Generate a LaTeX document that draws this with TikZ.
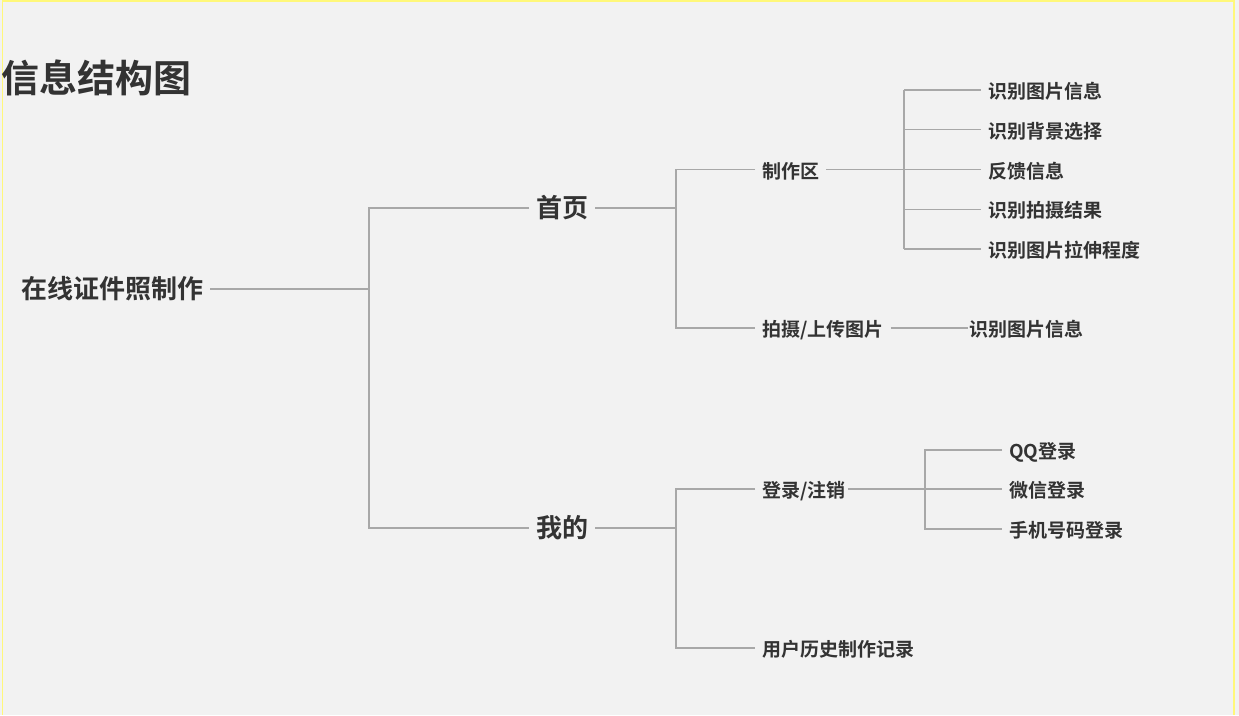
\documentclass[tikz,border=0pt]{standalone}
\usepackage{fontspec}
\newfontfamily\cjk{Noto Sans CJK SC}[BoldFont={Noto Sans CJK SC Bold}]
\definecolor{paper}{HTML}{F2F2F2}
\definecolor{wire}{HTML}{A8A8A8}
\definecolor{ink}{HTML}{333333}
\definecolor{rim}{HTML}{FFF87A}
\begin{document}
\begin{tikzpicture}[x=1pt,y=-1pt,
  lbl/.style={anchor=west,inner xsep=7pt,inner ysep=0pt,text=ink,text depth=0pt},
  big/.style={lbl,text height=19pt,font=\cjk\bfseries\fontsize{26}{26}\selectfont},
  small/.style={lbl,text height=17pt,font=\cjk\bfseries\fontsize{19}{19}\selectfont},
  link/.style={draw=wire,line width=1.2pt}]

\useasboundingbox[fill=paper] (0,0) rectangle (1239,715);
\draw[rim,line width=1.5pt] (2.5,715) -- (2.5,1) -- (1234,1) -- (1234,715);

\node[lbl,inner xsep=0pt,text height=29pt,font=\cjk\bfseries\fontsize{38}{38}\selectfont] (title) at (1,78) {信息结构图};

\begin{scope}
\node[big] (root) at (14,289) {在线证件照制作};
\node[big] (home) at (529,208) {首页};
\node[big] (mine) at (529,528) {我的};
\coordinate (j0) at (369,289);
\draw[link] (root.east) -- (j0);
\draw[link] (home.west) -| (j0) |- (mine.west);
\end{scope}

\begin{scope}
\node[small] (make) at (755,169.5) {制作区};
\node[small] (shoot) at (755,328) {拍摄/上传图片};
\coordinate (j1) at (676,208);
\draw[link] (home.east) -- (j1);
\draw[link] (make.west) -| (j1) |- (shoot.west);

\foreach \t [count=\i] in {识别图片信息,识别背景选择,反馈信息,识别拍摄结果,识别图片拉伸程度}
  \node[small] (leaf\i) at (981,{90+39.75*(\i-1)}) {\t};
\coordinate (j2) at (904,169.5);
\draw[link] (make.east) -- (j2);
\draw[link] (j2 |- leaf1.west) -- (j2 |- leaf5.west);
\foreach \i in {1,...,5}
  \draw[link] (j2 |- leaf\i.west) -- (leaf\i.west);

\node[small] (check) at (962,328) {识别图片信息};
\draw[link,shorten >=-6pt] (shoot.east) -- (check.west);
\end{scope}

\begin{scope}
\node[small] (login) at (755,489) {登录/注销};
\node[small] (hist) at (755,648) {用户历史制作记录};
\coordinate (j3) at (676,528);
\draw[link] (mine.east) -- (j3);
\draw[link] (login.west) -| (j3) |- (hist.west);

\node[small] (qq) at (1002,450) {QQ登录};
\node[small] (wx) at (1002,489) {微信登录};
\node[small] (tel) at (1002,529) {手机号码登录};
\coordinate (j4) at (925,489);
\draw[link,shorten <=-5pt] (login.east) -- (wx.west);
\draw[link] (qq.west) -| (j4) |- (tel.west);
\end{scope}

\end{tikzpicture}
\end{document}
